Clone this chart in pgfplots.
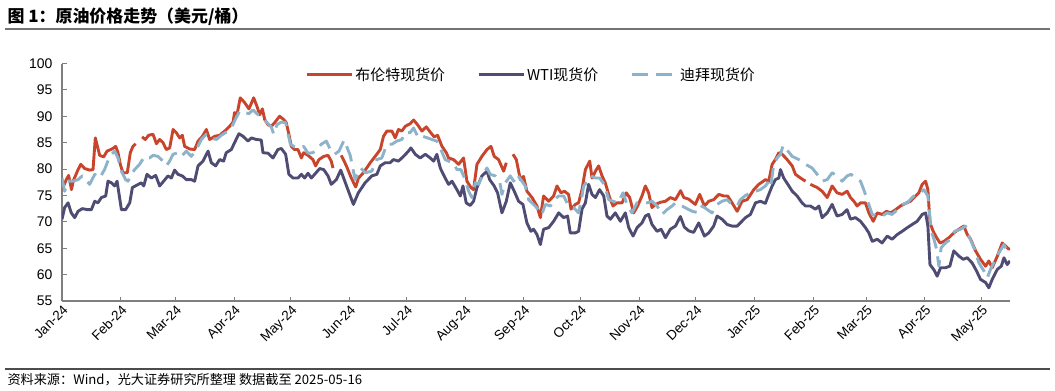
\documentclass[border=0pt]{standalone}
\usepackage{fontspec}
\setmainfont{Liberation Sans}
\newfontfamily\cjk{Noto Sans CJK SC}
\usepackage{pgfplots}
\pgfplotsset{compat=1.18}
\definecolor{brent}{HTML}{C8452B}
\definecolor{wti}{HTML}{4F4C73}
\definecolor{dubai}{HTML}{8CB3C9}
\definecolor{axgray}{HTML}{7F7F7F}
\begin{document}
\begin{tikzpicture}[x=1bp,y=1bp]
\path[use as bounding box] (-62,-89) rectangle (993,301);
\begin{axis}[
  at={(0,0)}, anchor=south west, scale only axis,
  width=948bp, height=237.5bp,
  xmin=0, xmax=501, ymin=55, ymax=100,
  axis x line*=bottom, axis y line*=left,
  axis line style={axgray, line width=1.2bp},
  tick style={axgray, line width=1bp},
  tick align=inside, major tick length=4.5bp,
  xtick={0,31,60,91,121,152,182,213,244,274,305,335,366,397,425,456,486},
  xticklabels={Jan-24,Feb-24,Mar-24,Apr-24,May-24,Jun-24,Jul-24,Aug-24,Sep-24,Oct-24,Nov-24,Dec-24,Jan-25,Feb-25,Mar-25,Apr-25,May-25},
  ytick={55,60,...,100},
  tick label style={font=\fontsize{14}{16}\selectfont, text=black},
  /pgf/number format/assume math mode=true,
  yticklabel style={xshift=-6bp},
  xticklabel style={rotate=45, anchor=north east, inner sep=2bp, font=\fontsize{13.5}{15}\selectfont},
  unbounded coords=jump,
  legend columns=3,
  legend style={at={(0.495,1)}, anchor=north, draw=none, fill=none,
    font=\cjk\fontsize{15}{17}\selectfont,
    /tikz/every even column/.append style={column sep=30bp}},
  legend image code/.code={\draw[#1] (0bp,0bp) -- (45bp,0bp);},
]
\addplot[brent, line width=2.9bp, line join=round] coordinates {
(0,76.1)(2.3,78.0)(3.5,78.8)(5,76.1)(6,77.8)(8.5,79.9)(9.9,80.9)(12,80.1)(14.6,79.8)(16.4,79.9)
(17.6,85.9)(19.9,82.6)(22,82.3)(23.8,83.4)(26.4,83.8)(28.4,84.3)(29.6,83.1)(30.8,80.9)(32.2,79.3)
(34.5,79.3)(36.1,83.1)(37.5,84.3)(38.9,84.8)(40.5,nan)(42.3,86.1)(44,85.6)(45.8,86.4)(48.1,86.6)
(49.9,84.8)(51.6,85.6)(53.4,85.0)(55.1,83.7)(56.9,84.0)(58.7,87.5)(60.4,86.9)(62.2,85.9)(63.6,86.4)
(64.8,84.3)(67.5,83.8)(70.1,83.7)(71.9,85.3)(74.2,86.2)(76.3,87.5)(78,85.6)(80.7,86.2)(83.3,86.4)
(86,87.2)(88.6,88.1)(90.4,88.9)(91.2,90.7)(92.5,90.3)(94.2,93.5)(96.5,92.6)(98.8,91.4)(101.3,93.5)
(103,91.9)(104.5,90.3)(105.9,91.4)(107.1,89.4)(108.9,88.4)(110.6,88.1)(112.4,88.8)(115,90.0)
(117.1,89.4)(118.5,88.8)(119.9,86.6)(121.2,84.3)(122.9,83.7)(124.7,83.7)(126.5,82.1)(127.7,83.1)
(130,82.6)(132.6,81.8)(134,80.6)(135.8,81.8)(138.3,82.4)(140.6,82.6)(142.3,81.5)(143.2,80.2)
(145.4,nan)(147.6,82.6)(150.3,80.6)(152.9,78.3)(155.2,76.6)(156.7,78.3)(159.3,79.3)(162.9,81.2)
(165.5,82.4)(168.2,83.7)(169.9,86.2)(171.7,87.2)(174.3,87.2)(176.1,85.9)(177.8,87.5)(179.6,87.2)
(181.4,88.1)(184,88.6)(185.8,89.3)(187.9,88.4)(190.2,87.2)(192.5,88.0)(194.6,87.0)(196.7,86.1)
(198.5,86.4)(200.8,84.3)(203.1,83.1)(204.3,82.1)(206.9,81.8)(209.6,80.9)(212.2,82.1)(214,77.7)
(216.1,76.5)(217.5,76.1)(219.3,80.9)(221.9,82.4)(224.6,83.7)(226.7,84.3)(228.4,82.4)(230.7,81.8)
(233.4,79.6)(234.8,81.2)(236.5,nan)(238.3,82.8)(240.1,81.8)(242.2,78.0)(243.9,78.6)(245.7,75.8)
(248.4,74.6)(251,73.0)(252.8,70.8)(254.5,74.9)(257.2,73.9)(259.8,74.9)(261.6,76.8)(263.7,75.5)
(265.5,75.8)(267.7,75.2)(269,72.4)(271.3,73.3)(273,73.6)(274.8,76.1)(276.6,79.9)(278.9,81.5)
(280.1,78.3)(281.9,79.6)(283.6,80.6)(285.4,78.7)(287.1,77.4)(289.4,74.6)(291.2,73.0)(293.3,73.6)
(296,73.6)(298.2,75.5)(300,74.6)(302.1,71.7)(304.2,73.0)(306.5,74.9)(308.3,76.8)(310,75.5)
(311.8,72.7)(313.6,73.3)(316.2,73.7)(318.9,73.9)(321.5,74.6)(324.2,74.2)(326.9,75.9)(328.6,74.6)
(331.2,74.3)(334.7,73.3)(337,75.2)(339.5,73.0)(341.8,73.9)(344.4,74.2)(347.1,75.2)(349.7,74.9)
(351.8,74.9)(354.1,73.6)(356.8,72.0)(359.4,73.9)(362.1,74.2)(365.6,76.1)(368.2,77.1)(371.8,78.0)
(373.5,77.7)(375.3,80.9)(377,81.8)(378.8,83.1)(380.6,82.8)(383.2,81.8)(385.9,80.6)(387.6,79.0)
(390.3,78.3)(392.9,77.7)(394.2,nan)(395.5,77.1)(399.1,76.5)(401.7,75.8)(404.4,74.6)(407,76.8)
(409.6,75.5)(412.3,75.2)(414.9,75.8)(416.7,74.6)(418.5,73.9)(420.2,73.0)(422,73.6)(424.6,73.6)
(426.4,71.7)(428.7,70.1)(430.8,71.7)(433.4,71.4)(435.7,72.0)(437.9,71.7)(440.5,72.3)(443.1,73.0)
(445.8,73.5)(448.4,73.9)(451.1,74.9)(452.8,75.5)(454.6,77.1)(456.4,77.7)(457.6,76.1)(458.7,69.8)
(460.4,68.2)(462.2,67.0)(464,66.0)(466.1,66.3)(468.7,67.0)(471.3,67.9)(474,68.6)(476.6,69.2)
(478.4,67.6)(480.2,66.7)(482.8,64.5)(485.4,62.9)(488.1,61.6)(489.8,62.6)(491.6,61.3)(494.3,63.5)
(496.9,66.0)(498.7,65.4)(500.4,64.8)(501,65.0)
};
\addlegendentry{布伦特现货价}
\addplot[wti, line width=2.9bp, line join=round] coordinates {
(0,70.5)(1.4,72.7)(3.2,73.6)(4.9,71.7)(6.7,70.8)(8.5,72.0)(10.7,72.5)(13.7,72.3)(15.5,72.3)
(17.3,73.9)(19,73.6)(20.8,74.6)(23.1,74.9)(24.3,77.7)(26.1,77.4)(27.8,76.8)(29.1,77.7)(31.4,72.3)
(33.6,72.3)(35.8,73.6)(37.2,76.5)(39.3,76.9)(41.9,77.4)(43.2,76.8)(44.9,79.0)(47.2,78.3)(49.5,78.8)
(51.6,76.8)(53.7,77.7)(56,78.7)(57.8,78.3)(59.5,79.8)(61.3,79.0)(63.6,78.7)(65.7,78.0)(68.3,78.0)
(70.1,77.7)(71.9,80.6)(74.5,81.5)(77.2,83.4)(78.9,81.2)(81.2,80.6)(83.3,81.8)(85.4,81.5)(86.8,83.1)
(89.5,83.7)(91.2,85.0)(93.5,86.7)(95.7,86.2)(98.3,85.3)(100.1,85.9)(102.7,85.6)(105.3,85.5)
(106.2,83.1)(108.9,83.0)(111.5,82.1)(114.1,83.7)(115.9,83.9)(118.2,82.8)(119.9,79.0)(122.1,78.3)
(124.7,78.3)(126.5,79.0)(128.2,78.3)(130,79.2)(131.8,78.3)(133.5,79.0)(136.2,80.1)(138.3,79.9)
(140.6,78.7)(142.3,77.1)(145,78.0)(147.3,79.8)(151.1,76.1)(154,73.3)(156.6,75.5)(160.2,77.4)
(163.7,78.7)(166.4,79.0)(168.2,80.6)(170.8,81.2)(173.4,81.2)(175.2,81.8)(177.8,81.5)(180.5,82.4)
(183.1,83.4)(184.4,84.0)(186.7,82.8)(189.3,82.1)(192,82.8)(194.6,82.1)(196.4,81.5)(198.1,82.8)
(199.9,80.2)(202.5,78.3)(204.3,77.1)(206.1,77.7)(208.7,76.1)(210.5,74.9)(211.9,76.8)(213.6,73.6)
(215.7,73.1)(217.5,73.9)(219.3,76.5)(221.9,78.7)(224.6,79.6)(226,78.0)(228.4,76.8)(230.2,75.5)
(232.5,71.7)(234.8,73.9)(236.9,77.4)(239,75.8)(241.3,73.9)(243.6,73.3)(245.7,69.8)(247.8,68.2)
(249.2,68.6)(251,67.6)(252.8,65.7)(254.5,68.6)(257.2,68.9)(259.8,70.1)(262.5,71.7)(265.1,70.8)
(267.2,71.1)(268.6,67.9)(271.3,67.9)(273,68.2)(274.8,72.4)(276.6,73.6)(278.3,77.1)(280.1,75.2)
(281.9,74.6)(284.1,76.1)(286.3,74.9)(288,71.1)(289.8,70.5)(292.4,71.7)(295.1,70.1)(297.7,71.7)
(299.5,68.9)(301.8,67.3)(303.9,68.9)(306.5,69.8)(308.3,71.1)(310,71.4)(311.8,69.5)(314.5,68.2)
(316.6,68.6)(318.9,67.0)(321.5,68.6)(324.2,69.2)(326.8,71.0)(328.9,69.0)(331.2,68.3)(333.8,68.0)
(336.5,69.8)(339.5,67.3)(341.8,67.9)(344.4,69.2)(346.2,71.1)(348.8,70.5)(351.5,69.5)(354.1,69.2)
(356.8,69.2)(358.5,69.8)(361.2,70.8)(363.8,71.4)(366.5,73.6)(369.1,73.9)(371.7,73.5)(373.5,75.2)
(375.3,76.8)(377,78.0)(378.8,78.3)(379.7,79.9)(381.4,78.3)(383.6,77.1)(385.9,75.8)(388.5,74.9)
(391.1,73.6)(392.9,73.0)(395.5,73.0)(398.2,72.4)(400,73.0)(401.7,70.8)(404.4,71.7)(407,73.3)
(409.6,71.1)(412.3,71.4)(414.9,72.3)(416.7,70.5)(419.3,70.8)(422,70.1)(424.6,68.9)(426.4,67.9)
(428.2,66.3)(430.8,66.7)(433.4,66.0)(436.1,67.3)(438.7,66.7)(441.4,67.6)(444,68.2)(446.7,68.9)
(449.3,69.5)(451.9,70.1)(454.6,71.4)(456.4,71.7)(457.6,69.2)(458.7,61.9)(460.8,60.9)(462.5,59.7)
(464.3,61.3)(466.9,61.3)(469.2,61.6)(471.3,64.5)(474,63.5)(476.3,62.9)(478.4,63.2)(481,62.2)
(483.3,60.7)(485.4,59.1)(488.1,58.5)(489.8,57.5)(491.6,59.1)(494.3,61.0)(496.4,61.6)(497.8,63.2)
(499.5,61.9)(501,62.6)
};
\addlegendentry{WTI现货价}
\addplot[dubai, line width=2.9bp, line join=round, dash pattern=on 16bp off 8bp] coordinates {
(0,78.3)(1.4,75.8)(3.2,77.7)(5.8,77.7)(8.5,78.0)(10.7,78.7)(14.6,77.1)(17.3,79.0)(19.9,78.3)
(22.5,79.9)(25.2,82.4)(27.8,83.4)(29.6,82.1)(31.4,79.6)(33.6,78.0)(34.9,77.7)(36.6,79.0)(38.4,79.9)
(41,80.9)(43.7,82.4)(46.3,82.1)(48.1,82.6)(50.7,82.4)(53.4,81.5)(55.1,80.6)(56.9,81.5)(58.7,82.8)
(61.3,83.1)(63.1,82.4)(65.7,83.4)(68.3,82.4)(71,83.7)(73.6,85.6)(76.3,86.6)(78.9,85.9)(81.6,85.6)
(84.2,86.4)(86.8,87.0)(89.5,87.8)(91.2,89.1)(93.9,91.0)(96.5,90.7)(98.8,90.5)(100.9,91.2)
(103.6,90.3)(106.2,89.7)(108,88.9)(110.6,88.0)(111.9,86.6)(113.6,88.4)(115.9,88.9)(118.2,88.8)
(120.7,84.7)(122.9,84.2)(125.6,84.0)(127.7,84.3)(130,83.0)(132.6,83.1)(135.3,84.0)(137,84.7)
(139.7,85.3)(141.8,83.7)(144.1,82.8)(146.4,83.4)(149.1,85.5)(152.3,82.6)(154.9,78.0)(157.9,80.2)
(160.2,79.3)(163.7,79.6)(166.4,81.8)(169,82.1)(171.7,84.7)(174.3,84.7)(177,85.3)(179.6,85.6)
(181.4,86.9)(184,86.9)(185.8,87.8)(188.4,85.9)(190.7,86.2)(193.2,85.9)(195.5,85.6)(198.1,85.3)
(200.2,83.7)(202.5,81.8)(204.3,81.5)(206.9,81.2)(208.7,79.9)(210.8,79.9)(213.1,78.0)(214.9,75.8)
(216.6,74.6)(218.4,77.4)(220.2,77.1)(222.8,79.3)(224.6,80.2)(226.3,79.0)(229,78.7)(231.3,77.7)
(232.5,75.2)(234.3,77.4)(236.9,78.7)(238.7,77.7)(240.4,79.0)(243.1,77.7)(244.8,76.8)(246.6,74.2)
(249.2,73.3)(251.9,72.3)(253.6,71.4)(255.4,73.3)(258.1,73.0)(260.2,74.2)(262.5,74.9)(265.1,74.9)
(267.7,73.0)(270.4,72.7)(273,71.7)(274.3,73.9)(275.7,76.8)(277.8,77.7)(279.6,78.7)(281.9,78.3)
(284.1,78.3)(286.6,77.1)(288.9,74.2)(291.2,73.9)(293.7,73.6)(296.5,75.5)(298.6,73.3)(301.2,71.7)
(303.9,73.6)(306.5,73.7)(309.2,73.6)(311.8,73.9)(314.5,73.0)(317.1,71.4)(319.7,72.3)(322.4,73.0)
(324.2,73.6)(327.7,73.0)(330.3,72.5)(333,72.0)(336.5,71.7)(338.3,73.0)(343.5,71.7)(346.2,73.3)
(348.8,73.9)(351.5,74.2)(353.2,73.6)(356.8,73.0)(358.5,74.2)(361.2,75.0)(363.8,75.5)(366.5,75.8)
(369.1,76.1)(371.7,76.8)(373,77.4)(374.4,76.5)(376.2,80.9)(377.9,82.1)(379.7,82.8)(381.1,84.5)
(382.3,84.0)(385.9,82.4)(389.4,81.8)(392.9,80.9)(396.4,80.2)(399.1,79.0)(401.7,77.7)(404.4,78.0)
(407,79.3)(409.6,78.7)(412.3,77.7)(414.9,78.7)(417,79.0)(419.3,78.3)(422,77.7)(423.7,76.1)
(425.5,74.2)(428.2,71.4)(430.8,71.1)(433.4,71.1)(436.1,71.7)(438.7,71.4)(441.4,72.3)(444,73.3)
(446.7,73.6)(449.3,74.6)(451.1,75.2)(453.4,75.5)(455.5,76.1)(457.6,74.9)(459.4,68.2)(460.8,66.7)
(462.2,64.8)(463.4,61.6)(464.6,65.1)(466.9,66.0)(469.6,66.7)(471.7,68.2)(474.9,68.6)(477.5,69.2)
(479.3,67.3)(481.9,65.1)(484.6,62.2)(487.2,60.7)(489,59.4)(490.7,61.0)(493.4,62.9)(495.1,64.1)
(497.8,65.7)(499.5,64.5)(501,64.1)
};
\addlegendentry{迪拜现货价}
\end{axis}
\node[anchor=west, font=\cjk\bfseries\fontsize{17}{19}\selectfont] at (-58,284.5) {图 1：原油价格走势（美元/桶）};
\draw[black!55, line width=2bp] (-57,272.5) -- (988,272.5);
\draw[black!70, line width=1.2bp] (-57,-68) -- (988,-68);
\node[anchor=west, font=\cjk\fontsize{13.2}{15}\selectfont] at (-58,-78.5) {资料来源：Wind，光大证券研究所整理 数据截至 2025-05-16};
\end{tikzpicture}
\end{document}
